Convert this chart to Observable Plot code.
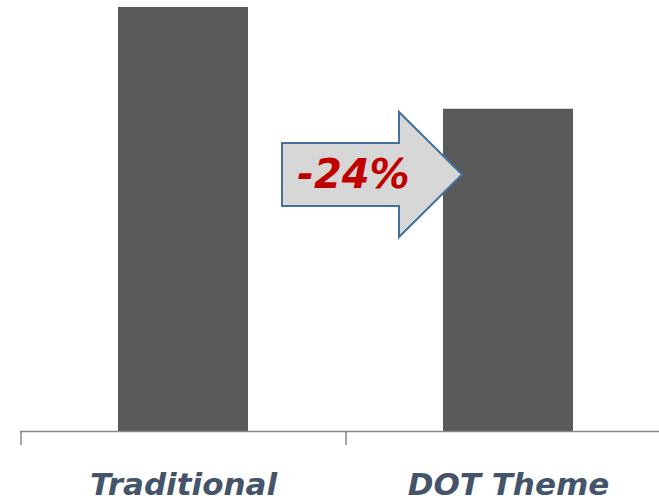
<!DOCTYPE html>
<html>
<head>
<meta charset="utf-8">
<script src="https://cdn.jsdelivr.net/npm/d3@7"></script>
<script src="https://cdn.jsdelivr.net/npm/@observablehq/plot@0.6"></script>
<style>
  html, body { margin: 0; padding: 0; background: #ffffff; }
  #chart svg { display: block; }
</style>
</head>
<body>
<div id="chart"></div>
<script>
// Relative score of the two approaches
const categories = ["Traditional", "DOT Theme"];
const values = [100, 76];

const data = categories.map((c, i) => ({category: c, value: values[i]}));

// Percentage change from the first bar to the second, shown in the arrow
const change = Math.round((values[1] / values[0] - 1) * 100);
const changeLabel = `${change}%`;

const labelFont = "'DejaVu Sans', Verdana, sans-serif";

// Block arrow pointing from the first bar towards the second
function arrowMark(index, scales) {
  const x = scales.x;
  const y = scales.y;
  const bw = x.bandwidth ? x.bandwidth() : 130;
  const tail = x(categories[0]) + bw + 34;
  const tip = x(categories[1]) + 19;
  const cy = y(60.5);
  const headLen = 63;
  const bodyHalf = 31.5;
  const headHalf = 62.5;
  const neck = tip - headLen;
  const pts = [
    [tail, cy - bodyHalf], [neck, cy - bodyHalf], [neck, cy - headHalf],
    [tip, cy], [neck, cy + headHalf], [neck, cy + bodyHalf], [tail, cy + bodyHalf]
  ];
  const g = d3.create("svg:g");
  g.append("polygon")
    .attr("points", pts.map(p => p.join(",")).join(" "))
    .attr("fill", "#d7d7d7")
    .attr("stroke", "#41719c")
    .attr("stroke-width", 2)
    .attr("stroke-linejoin", "miter");
  g.append("text")
    .attr("x", (tail + neck) / 2 + 13)
    .attr("y", cy + 14)
    .attr("text-anchor", "middle")
    .attr("font-family", labelFont)
    .attr("font-weight", "bold")
    .attr("font-style", "italic")
    .attr("font-size", 40)
    .attr("fill", "#c00000")
    .text(changeLabel);
  return g.node();
}

const chart = Plot.plot({
  width: 659,
  height: 504,
  marginTop: 7,
  marginBottom: 73,
  marginLeft: 20,
  marginRight: 0,
  style: {background: "#ffffff", overflow: "visible"},
  x: {domain: categories, range: [20, 670], paddingInner: 0.6, paddingOuter: 0.3, align: 0.5, axis: null, label: null},
  y: {domain: [0, 100], axis: null, label: null},
  marks: [
    Plot.barY(data, {x: "category", y: "value", fill: "#595959"}),
    Plot.ruleY([0], {stroke: "#878787", strokeWidth: 1.5}),
    // Category boundary ticks below the baseline
    Plot.axisX({tickSize: 14, dx: -162.5, stroke: "#878787", strokeWidth: 1.5, tickFormat: () => "", label: null}),
    Plot.text(data, {
      x: "category", y: 0, dy: 63, lineAnchor: "bottom", text: "category",
      fontFamily: labelFont, fontWeight: "bold", fontStyle: "italic",
      fontSize: 31, fill: "#44546a"
    }),
    arrowMark
  ]
});

document.getElementById("chart").appendChild(chart);
</script>
</body>
</html>
